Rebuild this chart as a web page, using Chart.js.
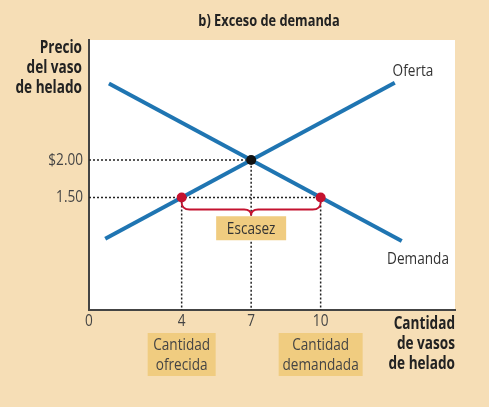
<!DOCTYPE html>
<html><head><meta charset="utf-8">
<script src="https://cdn.jsdelivr.net/npm/chart.js@4/dist/chart.umd.min.js"></script>
<style>html,body{margin:0;padding:0;background:#F6DEB6;}#w{width:489px;height:407px;}</style>
</head><body><div id="w"><canvas id="c"></canvas></div>
<script>
const supplyX=[0.7,13.2], supplyY=[0.95,3.03];
const demandX=[0.86,13.5], demandY=[3.02,0.92];
const eqX=7, eqY=2.0;
const priceLow=1.5, qSupplied=4, qDemanded=10;
const xTicks=[0,4,7,10], xTickLabels=['0','4','7','10'];
const yTicks=[2.0,1.5], yTickLabels=['$2.00','1.50'];
const F='"Open Sans","Liberation Sans",sans-serif';
const blue='#1F75B2', red='#C4122F', boxC='#F0CC80';
const pts=(xs,ys)=>xs.map((x,i)=>({x,y:ys[i]}));
const dotted={borderColor:'#222',borderWidth:1.5,borderDash:[2,2],pointRadius:0,showLine:true,fill:false,order:3};
function T(c,t,x,y,k){c.save();c.translate(x,y);c.scale(k||0.8,1);c.fillText(t,0,0);c.restore();}
const plug={id:'p',
beforeDraw(ch){const c=ch.ctx;c.save();c.fillStyle='#F6DEB6';c.fillRect(0,0,ch.width,ch.height);
 const a=ch.chartArea;c.fillStyle='#fff';c.fillRect(a.left,a.top,a.right-a.left,a.bottom-a.top);c.restore();},
afterDatasetsDraw(ch){const c=ch.ctx,x=ch.scales.x,y=ch.scales.y,a=ch.chartArea;c.save();
 const x1=x.getPixelForValue(qSupplied),x2=x.getPixelForValue(qDemanded),xm=x.getPixelForValue(eqX),yb=y.getPixelForValue(priceLow)+5;
 c.strokeStyle=red;c.lineWidth=1.8;c.beginPath();c.moveTo(x1,yb);c.quadraticCurveTo(x1,yb+7,x1+8,yb+7);c.lineTo(xm-7,yb+7);
 c.quadraticCurveTo(xm,yb+7,xm,yb+13);c.quadraticCurveTo(xm,yb+7,xm+7,yb+7);c.lineTo(x2-8,yb+7);c.quadraticCurveTo(x2,yb+7,x2,yb);c.stroke();
 const ey=y.getPixelForValue(1.09);c.fillStyle=boxC;c.fillRect(xm-35,ey-12,70,24);
 c.fillStyle='#333';c.font='17px '+F;c.textAlign='center';c.textBaseline='middle';T(c,'Escasez',xm,ey+1);
 c.fillStyle='#444';
 xTicks.forEach((v,i)=>{c.textAlign='center';c.textBaseline='top';T(c,xTickLabels[i],x.getPixelForValue(v),a.bottom+3);});
 yTicks.forEach((v,i)=>{c.textAlign='right';c.textBaseline='middle';T(c,yTickLabels[i],a.left-6,y.getPixelForValue(v));});
 const bx=[[x1,'Cantidad','ofrecida',68],[x2,'Cantidad','demandada',84]];
 bx.forEach(b=>{c.fillStyle=boxC;c.fillRect(b[0]-b[3]/2,a.bottom+23,b[3],43);c.fillStyle='#444';c.textAlign='center';c.textBaseline='middle';
  T(c,b[1],b[0],a.bottom+35);T(c,b[2],b[0],a.bottom+55);});
 c.fillStyle='#222';c.font='bold 17px '+F;c.textAlign='right';c.textBaseline='middle';
 ['Precio','del vaso','de helado'].forEach((t,i)=>T(c,t,82,48+i*20));
 ['Cantidad','de vasos','de helado'].forEach((t,i)=>T(c,t,a.right,a.bottom+14+i*20));
 c.textAlign='center';c.font='bold 16px '+F;T(c,'b) Exceso de demanda',269,21);
 c.fillStyle='#333';c.font='17px '+F;c.textAlign='center';
 T(c,'Oferta',413,71);T(c,'Demanda',418,259);
 c.restore();}};
new Chart(document.getElementById('c'),{type:'scatter',
data:{datasets:[
 {data:pts(supplyX,supplyY),showLine:true,borderColor:blue,borderWidth:4,pointRadius:0,order:2},
 {data:pts(demandX,demandY),showLine:true,borderColor:blue,borderWidth:4,pointRadius:0,order:2},
 {...dotted,data:[{x:0,y:eqY},{x:eqX,y:eqY},{x:eqX,y:0}]},
 {...dotted,data:[{x:0,y:priceLow},{x:qDemanded,y:priceLow}]},
 {...dotted,data:[{x:qSupplied,y:priceLow},{x:qSupplied,y:0}]},
 {...dotted,data:[{x:qDemanded,y:priceLow},{x:qDemanded,y:0}]},
 {data:[{x:qSupplied,y:priceLow},{x:qDemanded,y:priceLow}],pointRadius:5,pointBackgroundColor:red,pointBorderWidth:0,order:0},
 {data:[{x:eqX,y:eqY}],pointRadius:5,pointBackgroundColor:'#111',pointBorderWidth:0,order:0}
]},
options:{responsive:true,maintainAspectRatio:false,animation:false,
 layout:{padding:{left:89,top:40,right:34,bottom:97}},
 plugins:{legend:{display:false},tooltip:{enabled:false}},
 scales:{x:{type:'linear',min:0,max:15.8,ticks:{display:false},grid:{display:false},border:{color:'#444',width:2},afterFit:s=>{s.height=0;}},
  y:{type:'linear',min:0,max:3.6,ticks:{display:false},grid:{display:false},border:{color:'#444',width:2},afterFit:s=>{s.width=0;}}}},
plugins:[plug]});
</script></body></html>
